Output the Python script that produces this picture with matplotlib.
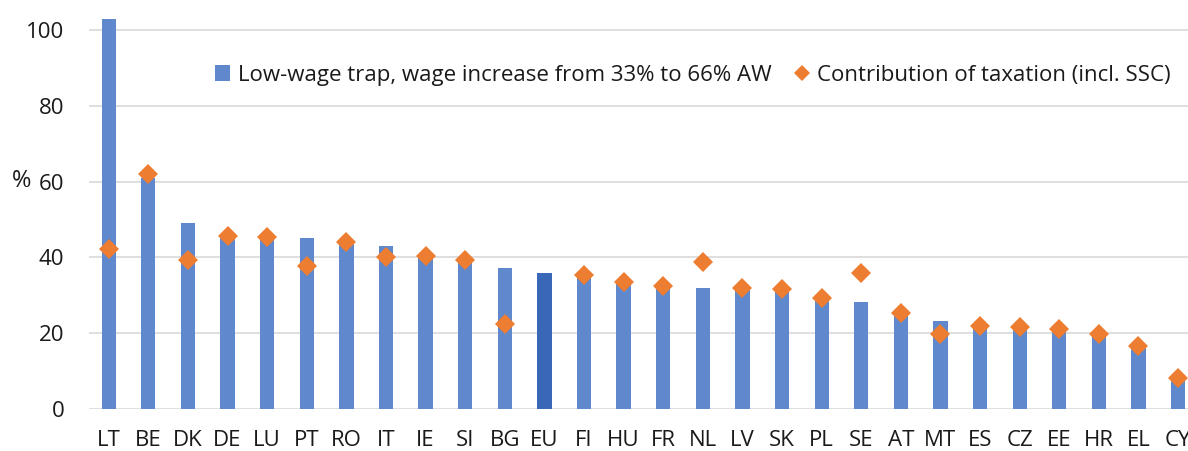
import matplotlib
matplotlib.use("Agg")
import matplotlib.pyplot as plt
from matplotlib.lines import Line2D
from matplotlib.patches import Patch
import numpy as np

countries = ["LT", "BE", "DK", "DE", "LU", "PT", "RO", "IT", "IE", "SI", "BG", "EU",
             "FI", "HU", "FR", "NL", "LV", "SK", "PL", "SE", "AT", "MT", "ES", "CZ",
             "EE", "HR", "EL", "CY"]
low_wage_trap = [102.8, 61.0, 49.1, 45.3, 45.0, 45.2, 43.5, 42.9, 40.0, 39.0, 37.2, 35.8,
                 35.0, 33.0, 32.4, 32.0, 31.6, 31.2, 29.0, 28.3, 25.0, 23.2, 21.5, 21.2,
                 20.8, 19.5, 16.3, 7.5]
tax_contribution = [42.2, 61.9, 39.4, 45.7, 45.4, 37.7, 44.1, 40.1, 40.4, 39.4, 22.4, None,
                    35.3, 33.5, 32.6, 38.9, 32.0, 31.6, 29.4, 35.8, 25.4, 19.9, 21.9, 21.6,
                    21.1, 19.9, 16.7, 8.3]

plt.rcParams["font.family"] = ["Open Sans", "DejaVu Sans"]

BAR = "#5F88CD"
BAR_EU = "#3A67B7"
ORANGE = "#ED7D31"
GRID = "#D9D9D9"
TXT = "#1A1A1A"
FS = 16

fig = plt.figure(figsize=(11.88, 4.51), dpi=100)
ax = fig.add_axes([0.0752, 0.0925, 1 - 0.0752, 1 - 0.0925])

x = np.arange(len(countries))
colors = [BAR_EU if c == "EU" else BAR for c in countries]
ax.bar(x, low_wage_trap, width=0.36, color=colors, zorder=2)

tx = [i for i, v in enumerate(tax_contribution) if v is not None]
ty = [v for v in tax_contribution if v is not None]
ax.plot(tx, ty, linestyle="none", marker="D", markersize=10.2,
        color=ORANGE, markeredgewidth=0, zorder=3)

ax.set_xlim(-0.49, 27.25)
ax.set_ylim(0, 107.85)
ax.set_yticks([0, 20, 40, 60, 80, 100])
ax.set_xticks(x)
ax.set_xticklabels(countries)
ax.yaxis.grid(True, color=GRID, linewidth=1.2, zorder=0)
ax.set_axisbelow(True)
for s in ax.spines.values():
    s.set_visible(False)
ax.tick_params(axis="both", length=0, labelsize=FS, colors=TXT)
ax.tick_params(axis="y", pad=18)
ax.tick_params(axis="x", pad=15)

fig.text(22 / 1188, 1 - 181 / 451, "%", fontsize=FS + 1, color=TXT,
         ha="center", va="center")

handles = [
    Patch(facecolor=BAR, edgecolor="none",
          label="Low-wage trap, wage increase from 33% to 66% AW"),
    Line2D([], [], linestyle="none", marker="D", markersize=8, color=ORANGE,
           markeredgewidth=0, label="Contribution of taxation (incl. SSC)"),
]
fig.legend(handles=handles, loc="center", bbox_to_anchor=(693 / 1188, 1 - 75 / 451),
           ncol=2, frameon=False, fontsize=FS, handlelength=0.7, handleheight=0.7,
           handletextpad=0.35, columnspacing=1.0, labelcolor=TXT)

fig.savefig("out.png", dpi=100)
